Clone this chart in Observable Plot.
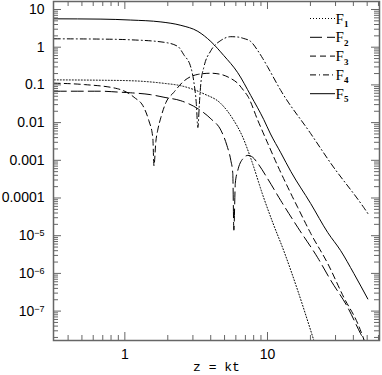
<!DOCTYPE html>
<html><head><meta charset="utf-8">
<script src="https://cdn.jsdelivr.net/npm/d3@7"></script>
<script src="https://cdn.jsdelivr.net/npm/@observablehq/plot@0.6"></script>
<style>html,body{margin:0;padding:0;background:#fff;}</style>
</head><body>
<div id="chart"></div>
<script>
// ---- data ----
const seriesNames = ["F1", "F2", "F3", "F4", "F5"];
const legendMain = "F";
const legendSub = ["1", "2", "3", "4", "5"];

const f1x = [0.32, 0.68, 1.1, 1.88, 2.47, 3.58, 4.71, 5.71, 6.71, 7.64, 9.42, 10.9, 13.0, 16.3, 21.1, 23.6];
const f1y = [0.136, 0.133, 0.129, 0.11, 0.095, 0.058, 0.032, 0.0126, 0.0041, 0.00112, 1.0e-4, 2.2e-5, 4.0e-6, 3.5e-7, 1.7e-8, 4.4e-9];

const f2x = [0.32, 0.68, 0.89, 1.1, 1.52, 1.88, 2.47, 3.25, 4.01, 4.71, 5.19, 5.53, 5.71, 5.81, 5.95, 6.19, 6.82, 7.28, 7.89, 8.55, 10.05, 12.4, 16.3, 22.5, 27.8, 36.5, 45.0, 50.5];
const f2y = [0.068, 0.068, 0.0646, 0.0617, 0.055, 0.047, 0.038, 0.0234, 0.0126, 0.0063, 0.0025, 0.001, 4.5e-4, 1.4e-5, 2.5e-4, 5.4e-4, 1.17e-3, 1.35e-3, 1.2e-3, 8.3e-4, 3.2e-4, 8.5e-5, 1.66e-5, 2.6e-6, 6.5e-7, 1.26e-7, 2.5e-8, 1.1e-8];

const f3x = [0.32, 0.52, 0.89, 1.16, 1.36, 1.47, 1.57, 1.60, 1.65, 1.70, 1.79, 1.94, 2.20, 2.59, 3.25, 4.01, 4.71, 5.53, 6.19, 6.82, 7.28, 8.55, 10.05, 11.8, 14.6, 16.3, 20.1, 26.5, 34.3, 42.9, 49.6];
const f3y = [0.111, 0.102, 0.079, 0.047, 0.025, 0.0115, 0.004, 7.2e-4, 0.0032, 0.0063, 0.0138, 0.034, 0.063, 0.126, 0.19, 0.204, 0.19, 0.148, 0.11, 0.07, 0.05, 0.0115, 0.0028, 7.1e-4, 1.3e-4, 5.6e-5, 1.15e-5, 1.8e-6, 2.3e-7, 4.7e-8, 1.1e-8];

const f4x = [0.32, 0.68, 1.1, 1.88, 2.35, 2.59, 2.90, 3.04, 3.17, 3.25, 3.33, 3.41, 3.58, 4.01, 4.71, 5.53, 6.19, 6.82, 7.64, 8.55, 9.27, 10.05, 12.4, 20.1, 27.8, 47.3, 50.5];
const f4y = [1.67, 1.64, 1.57, 1.35, 1.05, 0.63, 0.295, 0.126, 0.0316, 0.0074, 0.0316, 0.11, 0.295, 0.81, 1.51, 1.9, 1.86, 1.7, 1.41, 0.81, 0.5, 0.295, 0.071, 0.0051, 8.3e-4, 5.6e-5, 3.9e-5];

const f5x = [0.32, 0.68, 1.1, 1.79, 2.47, 3.25, 4.01, 4.94, 6.19, 7.64, 9.42, 10.5, 12.4, 14.6, 20.1, 26.5, 32.6, 40.3, 50.5];
const f5y = [5.66, 5.56, 5.25, 4.68, 3.8, 2.63, 1.41, 0.6, 0.21, 0.052, 0.012, 0.005, 0.00158, 5.0e-4, 7.1e-5, 1.2e-5, 4.0e-6, 1.0e-6, 2.1e-7];

const xTickValues = [1, 10];
const xTickLabels = ["1", "10"];
const yTickValues = [10, 1, 0.1, 0.01, 0.001, 0.0001, 1e-5, 1e-6, 1e-7];
const yTickLabels = ["10", "1", "0.1", "0.01", "0.001", "0.0001", "10^-5", "10^-6", "10^-7"];
const xLabel = "z = kt";
const xDomain = [0.316, 61];
const yDomain = [1.66e-8, 16.3];

// ---- styles ----
const dashes = ["1,2", "12,5", "6,4", "6,3,1,3", null];
const W = 382, H = 375;
const M = {top: 1, right: 3, bottom: 35, left: 53};
const plotW = W - M.left - M.right, plotH = H - M.top - M.bottom;
const majorLen = 8, minorLen = 5;
const axisColor = "#666";

const xs = [f1x, f2x, f3x, f4x, f5x];
const ys = [f1y, f2y, f3y, f4y, f5y];
const seriesData = seriesNames.map((s, i) => xs[i].map((x, j) => ({s, x, y: ys[i][j]})));

const xMinor = [];
for (let e = -1; e <= 1; e++) for (let k = 2; k <= 9; k++) {
  const v = k * Math.pow(10, e);
  if (v >= xDomain[0] && v <= xDomain[1]) xMinor.push(v);
}
const yMinor = [];
for (let e = -9; e <= 1; e++) for (let k = 2; k <= 9; k++) {
  const v = k * Math.pow(10, e);
  if (v >= yDomain[0] && v <= yDomain[1]) yMinor.push(v);
}
const xLab = new Map(xTickValues.map((v, i) => [v, xTickLabels[i]]));
const yLab = new Map(yTickValues.map((v, i) => [v, yTickLabels[i]]));

const tickOpts = {stroke: axisColor, strokeWidth: 1};
const marks = [
  ...seriesData.map((d, i) => Plot.line(d, {x: "x", y: "y", curve: "monotone-x", stroke: "black", strokeWidth: 1, strokeDasharray: dashes[i], clip: true})),
  Plot.tickY(yTickValues, {y: d => d, insetRight: plotW - majorLen, ...tickOpts}),
  Plot.tickY(yTickValues, {y: d => d, insetLeft: plotW - majorLen, ...tickOpts}),
  Plot.tickY(yMinor, {y: d => d, insetRight: plotW - minorLen, ...tickOpts}),
  Plot.tickY(yMinor, {y: d => d, insetLeft: plotW - minorLen, ...tickOpts}),
  Plot.tickX(xTickValues, {x: d => d, insetTop: plotH - majorLen, ...tickOpts}),
  Plot.tickX(xTickValues, {x: d => d, insetBottom: plotH - majorLen, ...tickOpts}),
  Plot.tickX(xMinor, {x: d => d, insetTop: plotH - minorLen, ...tickOpts}),
  Plot.tickX(xMinor, {x: d => d, insetBottom: plotH - minorLen, ...tickOpts}),
  Plot.frame({stroke: axisColor, strokeWidth: 1.5}),
  Plot.axisY(yTickValues, {tickSize: 0, tickPadding: 9, tickFormat: d => yLab.get(d), label: null}),
  Plot.axisX(xTickValues, {tickSize: 0, tickPadding: 9, tickFormat: d => xLab.get(d), label: null}),
  Plot.text([xLabel], {frameAnchor: "bottom", dy: 30, text: d => d, fontFamily: "Liberation Mono", fontSize: 13, fill: "black"})
];

const svg = Plot.plot({
  width: W, height: H,
  marginTop: M.top, marginRight: M.right, marginBottom: M.bottom, marginLeft: M.left,
  x: {type: "log", domain: xDomain},
  y: {type: "log", domain: yDomain},
  style: {fontFamily: "'Liberation Sans', Arial, sans-serif", fontSize: "14px", background: "white", color: "black"},
  marks
});

// superscripts in tick labels
d3.select(svg).selectAll("text").each(function () {
  const t = this.textContent;
  if (t.includes("^")) {
    const [b, e] = t.split("^");
    const sel = d3.select(this);
    sel.text(null);
    sel.append("tspan").text(b);
    sel.append("tspan").attr("dy", "-0.45em").attr("font-size", "9px").text(e.replace("-", "\u2212"));
  }
});

// legend
const lg = d3.select(svg).append("g");
const legendX1 = 310, legendX2 = 335, legendTextX = 342, legendY0 = 18.5, legendStep = 18.8;
seriesNames.forEach((name, i) => {
  const y = legendY0 + i * legendStep;
  const ln = lg.append("line").attr("x1", legendX1).attr("x2", legendX2).attr("y1", y).attr("y2", y)
    .attr("stroke", "black").attr("stroke-width", 1);
  if (dashes[i]) ln.attr("stroke-dasharray", dashes[i]);
  const tx = lg.append("text").attr("x", legendTextX).attr("y", y + 5)
    .attr("font-family", "'Liberation Serif', serif").attr("font-size", 15).attr("fill", "black");
  tx.append("tspan").text(legendMain);
  tx.append("tspan").attr("dy", 3.5).attr("font-size", 9).attr("font-weight", "bold").text(legendSub[i]);
});

document.getElementById("chart").appendChild(svg);
</script>
</body></html>
